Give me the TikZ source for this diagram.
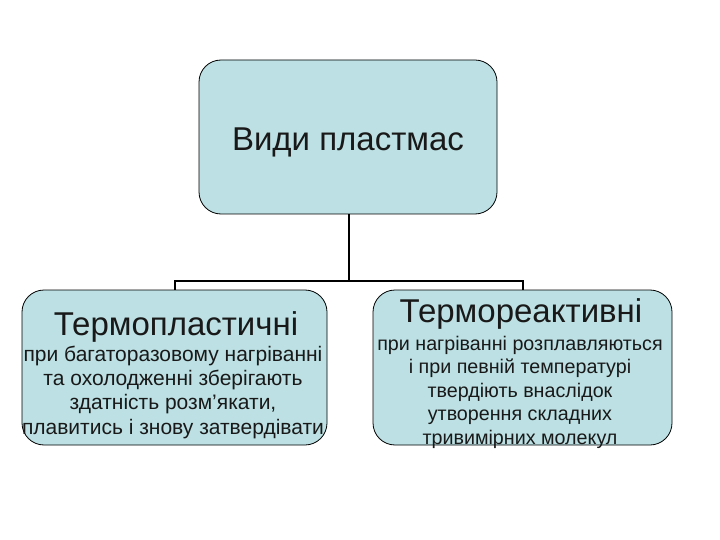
\documentclass[tikz,border=0pt]{standalone}
\usepackage{fontspec}
\setmainfont{Liberation Sans}
\definecolor{boxfill}{RGB}{188,224,227}
\begin{document}
\begin{tikzpicture}[x=1pt,y=-1pt,
  box/.style={draw=black, line width=0.8pt, fill=boxfill, rounded corners=22pt, inner sep=0pt},
  conn/.style={draw=black, line width=1.6pt},
  ttl/.style={anchor=base, inner sep=0pt, text=black!90},
  body/.style={anchor=base, inner sep=0pt, align=center, text=black!90}]
\useasboundingbox (0,0) rectangle (720,540);
\node[box, minimum width=298pt, minimum height=154pt] (top) at (348,137) {};
\node[box, minimum width=305pt, minimum height=155pt] (left) at (174.5,367.5) {};
\node[box, minimum width=299pt, minimum height=155pt] (right) at (522.5,367.5) {};
\coordinate (jc) at (349,281);
\coordinate (jl) at (175,281);
\coordinate (jr) at (523,281);
\draw[conn] (top.south -| jc) -- (jc);
\draw[conn, line cap=rect] (jl) -- (jr);
\draw[conn] (jl) -- (jl |- left.north);
\draw[conn] (jr) -- (jr |- right.north);
\node[ttl, font=\fontsize{33}{36}\selectfont] (toptext) at (348,151) {Види пластмас};
\node[ttl, font=\fontsize{33}{36}\selectfont] (lefttitle) at (176,335) {Термопластичні};
\node[ttl, font=\fontsize{33}{36}\selectfont] (righttitle) at (521,322) {Термореактивні};
\node[body, font=\fontsize{21}{24.3}\selectfont] (leftbody) at (173,434) {при багаторазовому нагріванні\\та охолодженні зберігають\\здатність розм’якати,\\плавитись і знову затвердівати};
\node[body, font=\fontsize{19.7}{23.5}\selectfont] (rightbody) at (520,444) {при нагріванні розплавляються\\і при певній температурі\\твердіють внаслідок\\утворення складних\\тривимірних молекул};
\end{tikzpicture}
\end{document}
